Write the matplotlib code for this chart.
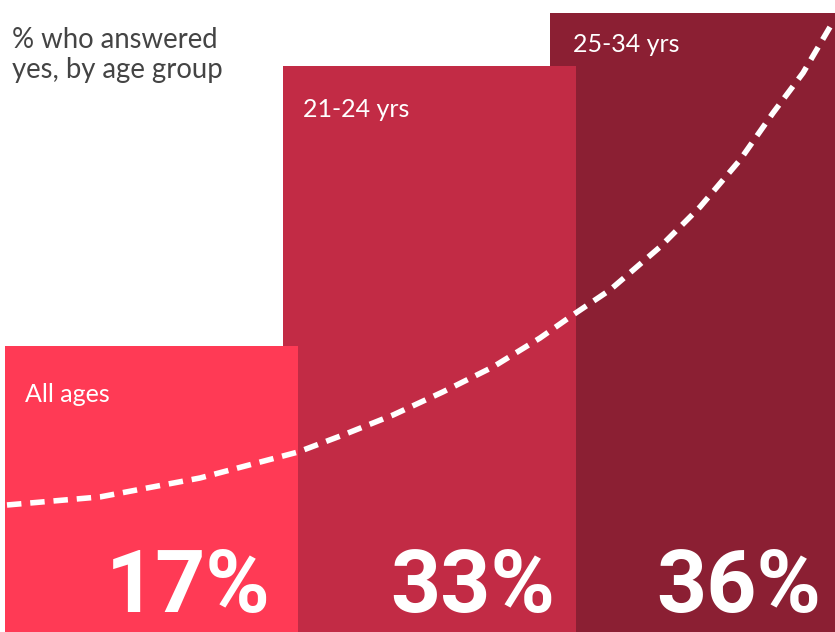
import matplotlib
matplotlib.use("Agg")
import matplotlib.pyplot as plt

# Survey results: share answering "yes" per age group
groups = ["All ages", "21-24 yrs", "25-34 yrs"]
values = [17, 33, 36]
value_labels = ["17%", "33%", "36%"]

# Decorative rising trend drawn across the bars (x in layout units, y in %)
trend_x = [7, 100, 200, 298, 343, 393, 443, 493, 540, 573, 610, 660, 700,
           740, 773, 803, 830]
trend_y = [7.95, 8.41, 9.49, 10.97, 11.94, 13.08, 14.40, 15.82, 17.47,
           18.79, 20.21, 22.66, 24.94, 27.62, 30.30, 32.58, 35.20]

title_lines = ["% who answered", "yes, by age group"]

# Layout (x in pixel-like units across the 835-wide canvas)
W, H = 835, 632
bar_left = [5, 283, 550]
bar_width = [293, 293, 285]
bar_colors = ["#FF3A55", "#C22B45", "#8B1F33"]
bar_z = [3, 2, 1]
label_x = [25, 303, 573]
label_y = [402, 117, 52]      # baselines in pixels from top
value_right = [271, 555, 821]
value_base = 612
title_base = [48, 78]

fig = plt.figure(figsize=(W / 100, H / 100), dpi=100)
ax = fig.add_axes([0, 0, 1, 1])
ax.set_xlim(0, W)
ax.set_ylim(0.71, 36.74)
ax.axis("off")

for i in range(len(values)):
    ax.bar(bar_left[i], values[i], width=bar_width[i], align="edge",
           color=bar_colors[i], zorder=bar_z[i], linewidth=0)

ax.plot(trend_x, trend_y, color="white", lw=4, ls=(0, (2.6, 1.6)),
        zorder=5, solid_capstyle="butt", dash_capstyle="butt")


def fy(px):
    return 1 - px / H


for line, base in zip(title_lines, title_base):
    ax.text(12 / W, fy(base), line, transform=ax.transAxes, ha="left",
            va="baseline", fontsize=19.8, color="#444444", family="Lato",
            zorder=6)

for i in range(len(groups)):
    ax.text(label_x[i] / W, fy(label_y[i]), groups[i], transform=ax.transAxes,
            ha="left", va="baseline", fontsize=18, color="white",
            family="Lato", zorder=6)
    ax.text(value_right[i] / W, fy(value_base), value_labels[i],
            transform=ax.transAxes, ha="right", va="baseline", fontsize=63,
            color="white", family="Roboto", fontweight="bold", zorder=6)

fig.savefig("out.png", dpi=100)
